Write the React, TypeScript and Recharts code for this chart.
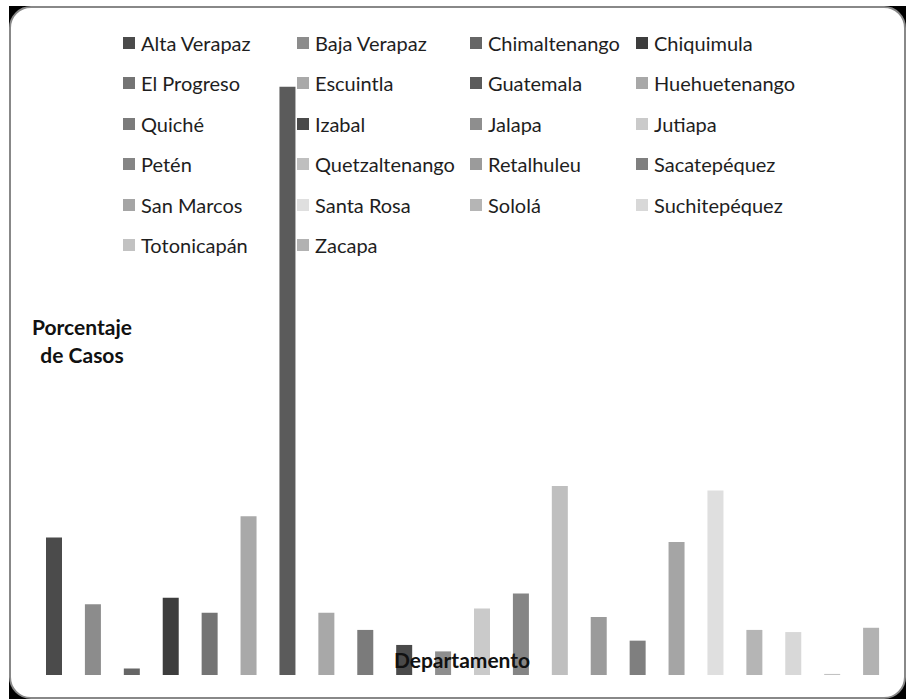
import React from "react";
import { Bar, BarChart, Cell, Legend, XAxis, YAxis } from "recharts";

const departamentos = [
  "Alta Verapaz", "Baja Verapaz", "Chimaltenango", "Chiquimula",
  "El Progreso", "Escuintla", "Guatemala", "Huehuetenango",
  "Quiché", "Izabal", "Jalapa", "Jutiapa",
  "Petén", "Quetzaltenango", "Retalhuleu", "Sacatepéquez",
  "San Marcos", "Santa Rosa", "Sololá", "Suchitepéquez",
  "Totonicapán", "Zacapa",
];

// porcentaje de casos
const porcentajes = [
  6.4, 3.3, 0.3, 3.6, 2.9, 7.4, 27.4, 2.9, 2.1, 1.4, 1.1,
  3.1, 3.8, 8.8, 2.7, 1.6, 6.2, 8.6, 2.1, 2.0, 0.05, 2.2,
];

const grises = [
  "#4b4b4b", "#8c8c8c", "#666666", "#3d3d3d", "#747474", "#a9a9a9",
  "#5b5b5b", "#a8a8a8", "#7b7b7b", "#4a4a4a", "#8e8e8e", "#cacaca",
  "#858585", "#bfbfbf", "#9b9b9b", "#7f7f7f", "#a5a5a5", "#dfdfdf",
  "#b5b5b5", "#d8d8d8", "#c2c2c2", "#b2b2b2",
];

const data = departamentos.map((name, i) => ({ name, value: porcentajes[i] }));

const legendCols = [123, 297, 470, 636];
const font = "Lato, 'Open Sans', sans-serif";

function LegendGrid() {
  return (
    <div style={{ position: "relative", width: 907, height: 270, fontFamily: font }}>
      {departamentos.map((name, i) => (
        <div
          key={name}
          style={{
            position: "absolute",
            left: legendCols[i % 4],
            top: 43 + Math.floor(i / 4) * 40.4 - 13,
            height: 26,
            display: "flex",
            alignItems: "center",
            fontSize: 20,
            color: "#1e1e1e",
            whiteSpace: "nowrap",
          }}
        >
          <span style={{ width: 12, height: 12, background: grises[i], marginRight: 6, display: "inline-block" }} />
          {name}
        </div>
      ))}
    </div>
  );
}

export default function App() {
  return (
    <div style={{ position: "absolute", left: 0, top: 0, width: 907, height: 700, background: "#fff" }}>
      <div style={{ position: "absolute", left: 9, top: 6, width: 897, height: 693, background: "#000" }} />
      <div
        style={{
          position: "absolute",
          left: 9,
          top: 6,
          width: 893,
          height: 689,
          background: "#fff",
          border: "2px solid #888",
          borderRadius: 22,
        }}
      />
      <div style={{ position: "absolute", left: 0, top: 0 }}>
        <BarChart width={907} height={700} data={data} margin={{ top: 31, right: 16, bottom: 25, left: 35 }}>
          <XAxis dataKey="name" hide />
          <YAxis hide domain={[0, 30]} />
          <Legend
            layout="horizontal"
            verticalAlign="middle"
            align="center"
            content={() => <LegendGrid />}
            wrapperStyle={{ top: 0, left: 0, width: 907, height: 270 }}
          />
          <Bar dataKey="value" barSize={16} isAnimationActive={false}>
            {data.map((d, i) => (
              <Cell key={d.name} fill={grises[i]} />
            ))}
          </Bar>
        </BarChart>
      </div>
      <div
        style={{
          position: "absolute",
          left: 22,
          top: 313,
          width: 120,
          textAlign: "center",
          fontFamily: font,
          fontWeight: 700,
          fontSize: 21,
          lineHeight: "28px",
          color: "#111",
        }}
      >
        Porcentaje
        <br />
        de Casos
      </div>
      <div
        style={{
          position: "absolute",
          left: 362,
          top: 646,
          width: 200,
          textAlign: "center",
          fontFamily: font,
          fontWeight: 700,
          fontSize: 21,
          lineHeight: "28px",
          color: "#111",
        }}
      >
        Departamento
      </div>
    </div>
  );
}
